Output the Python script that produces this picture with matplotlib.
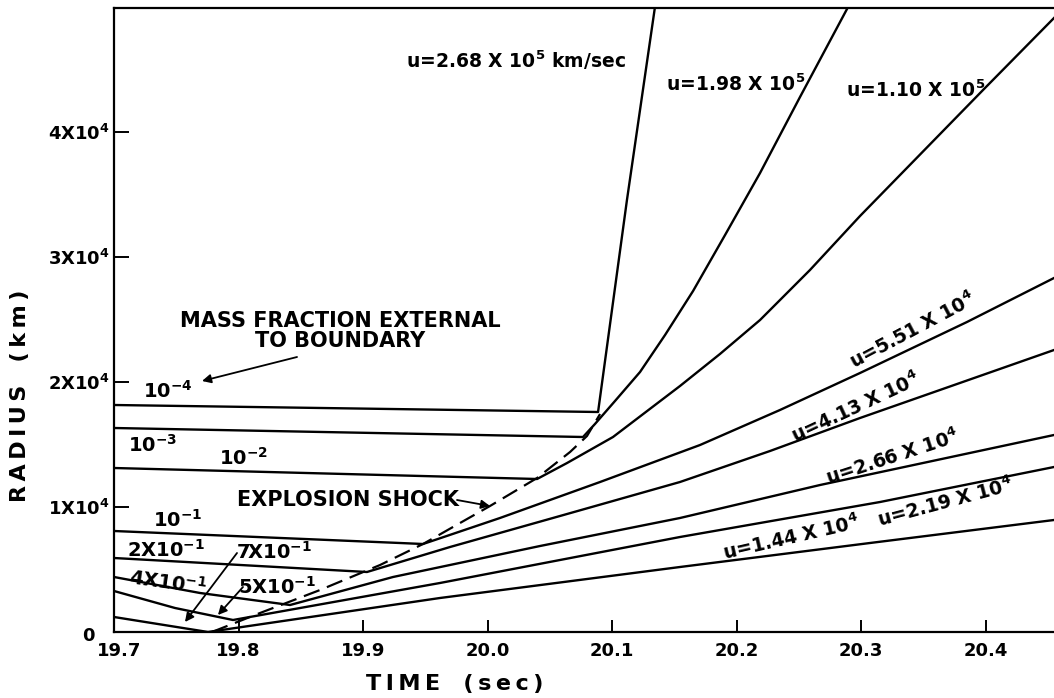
import matplotlib
matplotlib.use('Agg')
import matplotlib.pyplot as plt

plt.rcParams['font.family'] = 'DejaVu Sans'
plt.rcParams['font.weight'] = 'bold'
plt.rcParams['mathtext.fontset'] = 'custom'
for k in ('rm', 'it', 'bf', 'sf'):
    plt.rcParams['mathtext.' + k] = 'DejaVu Sans:bold'

# mass shells: time (sec) vs radius (km), outermost first
t_1e4 = [19.700, 20.0888, 20.1120, 20.1345]
r_1e4 = [18160, 17600, 34560, 50000]
t_1e3 = [19.700, 20.0767, 20.0863, 20.1024, 20.1225, 20.1426, 20.1651, 20.1908, 20.2189, 20.2510, 20.2896]
r_1e3 = [16320, 15600, 16640, 18480, 20800, 23760, 27280, 31760, 36720, 42800, 50000]
t_1e2 = [19.700, 20.0398, 20.0639, 20.1008, 20.1546, 20.1867, 20.2189, 20.2590, 20.2992, 20.3980, 20.4550]
r_1e2 = [13120, 12240, 13520, 15600, 19680, 22240, 24960, 28960, 33280, 43360, 49120]
t_1e1 = [19.700, 19.9297, 19.9482, 20.0100, 20.0904, 20.1707, 20.2349, 20.2992, 20.3851, 20.4550]
r_1e1 = [8080, 7120, 7040, 9120, 12000, 14960, 17760, 20720, 24800, 28320]
t_2e1 = [19.700, 19.9032, 19.9699, 20.0582, 20.1546, 20.2269, 20.2992, 20.4550]
r_2e1 = [5920, 4800, 6800, 9280, 12000, 14480, 17120, 22560]
t_4e1 = [19.700, 19.7691, 19.8414, 19.9241, 20.0422, 20.1546, 20.2671, 20.4550]
r_4e1 = [4400, 3120, 2160, 4400, 6880, 9120, 11760, 15760]
t_5e1 = [19.700, 19.7490, 19.7956, 19.9618, 20.1546, 20.3153, 20.4550]
r_5e1 = [3280, 1920, 960, 3920, 7600, 10400, 13200]
t_7e1 = [19.700, 19.7755, 19.9618, 20.1546, 20.3072, 20.4550]
r_7e1 = [1200, 0, 2720, 5200, 7120, 8960]

# explosion shock
t_shock = [19.7787, 19.8173, 19.8655, 19.9137, 19.9482, 20.0020, 20.0398, 20.0663, 20.0799, 20.0904]
r_shock = [0, 1520, 3360, 5360, 7040, 10080, 12320, 14400, 15680, 17440]

shells_t = [t_1e4, t_1e3, t_1e2, t_1e1, t_2e1, t_4e1, t_5e1, t_7e1]
shells_r = [r_1e4, r_1e3, r_1e2, r_1e1, r_2e1, r_4e1, r_5e1, r_7e1]

xticks = [19.7, 19.8, 19.9, 20.0, 20.1, 20.2, 20.3, 20.4]
xticklabels = ['', '19.8', '19.9', '20.0', '20.1', '20.2', '20.3', '20.4']
yticks = [0, 10000, 20000, 30000, 40000]
yticklabels = ['', '1X10$^4$', '2X10$^4$', '3X10$^4$', '4X10$^4$']


def spaced(s):
    return '\u2009'.join(s)


fig = plt.figure(figsize=(10.54, 6.98), dpi=100)
ax = fig.add_axes([114 / 1054, 66 / 698, 940 / 1054, 624 / 698])

for t, r in zip(shells_t, shells_r):
    ax.plot(t, r, color='black', lw=1.7, solid_joinstyle='round')
ax.plot(t_shock, r_shock, color='black', lw=1.6, linestyle=(0, (7.5, 3.6)))

ax.set_xlim(19.7, 20.455)
ax.set_ylim(0, 49920)
ax.spines['right'].set_visible(False)
for s in ('left', 'bottom', 'top'):
    ax.spines[s].set_linewidth(1.6)

ax.set_xticks(xticks)
ax.set_xticklabels(xticklabels, fontsize=13)
ax.set_yticks(yticks)
ax.set_yticklabels(yticklabels, fontsize=13)
ax.tick_params(axis='x', direction='in', length=9, width=1.4, pad=7)
ax.tick_params(axis='y', direction='in', length=11, width=1.4, pad=3)
# corner labels sit apart from the spines
ax.text(19.6792, -300, '0', fontsize=13, ha='center', va='center', clip_on=False)
ax.text(19.7040, -1520, '19.7', fontsize=13, ha='center', va='center', clip_on=False)

# shell labels (mass fraction external to boundary)
lab = dict(fontsize=14, ha='center', va='center')
ax.text(19.7434, 19280, '10$^{-4}$', **lab)
ax.text(19.7313, 14960, '10$^{-3}$', **lab)
ax.text(19.8044, 13920, '10$^{-2}$', **lab)
ax.text(19.7514, 8960, '10$^{-1}$', **lab)
ax.text(19.7418, 6560, '2X10$^{-1}$', **lab)
ax.text(19.7434, 4000, '4X10$^{-1}$', rotation=-8, **lab)
ax.text(19.8285, 6400, '7X10$^{-1}$', **lab)
ax.text(19.8309, 3600, '5X10$^{-1}$', **lab)

ax.text(19.8815, 24080, 'MASS FRACTION EXTERNAL\nTO BOUNDARY', fontsize=15,
        ha='center', va='center', multialignment='center', linespacing=1.05)
ax.text(19.7988, 10560, 'EXPLOSION SHOCK', fontsize=15, ha='left', va='center')

arrow = dict(arrowstyle='-|>', color='black', lw=1.3, mutation_scale=13,
             shrinkA=0, shrinkB=0)
ax.annotate('', xy=(19.7707, 20080), xytext=(19.847, 22000), arrowprops=arrow)
ax.annotate('', xy=(20.0020, 10080), xytext=(19.9755, 10560), arrowprops=arrow)
ax.annotate('', xy=(19.7570, 800), xytext=(19.7988, 6320), arrowprops=arrow)
ax.annotate('', xy=(19.7835, 1360), xytext=(19.8036, 3600), arrowprops=arrow)

# terminal velocity labels
vel = dict(fontsize=13.5, ha='center', va='center', rotation_mode='anchor')
ax.text(20.0229, 45760, 'u=2.68 X 10$^5$ km/sec', **vel)
ax.text(20.1996, 43840, 'u=1.98 X 10$^5$', **vel)
ax.text(20.3440, 43360, 'u=1.10 X 10$^5$', **vel)
ax.text(20.3410, 24160, 'u=5.51 X 10$^4$', rotation=28, **vel)
ax.text(20.2960, 17920, 'u=4.13 X 10$^4$', rotation=25, **vel)
ax.text(20.3250, 14000, 'u=2.66 X 10$^4$', rotation=18, **vel)
ax.text(20.3675, 10400, 'u=2.19 X 10$^4$', rotation=15, **vel)
ax.text(20.2438, 7520, 'u=1.44 X 10$^4$', rotation=13, **vel)

fig.text(20 / 1054, 1 - 396 / 698, spaced('RADIUS') + '   ' + spaced('(km)'),
         fontsize=16, rotation=90, ha='center', va='center')
fig.text(455 / 1054, 1 - 684 / 698, spaced('TIME') + '   ' + spaced('(sec)'),
         fontsize=16, ha='center', va='center')

fig.savefig('out.png', dpi=100)
